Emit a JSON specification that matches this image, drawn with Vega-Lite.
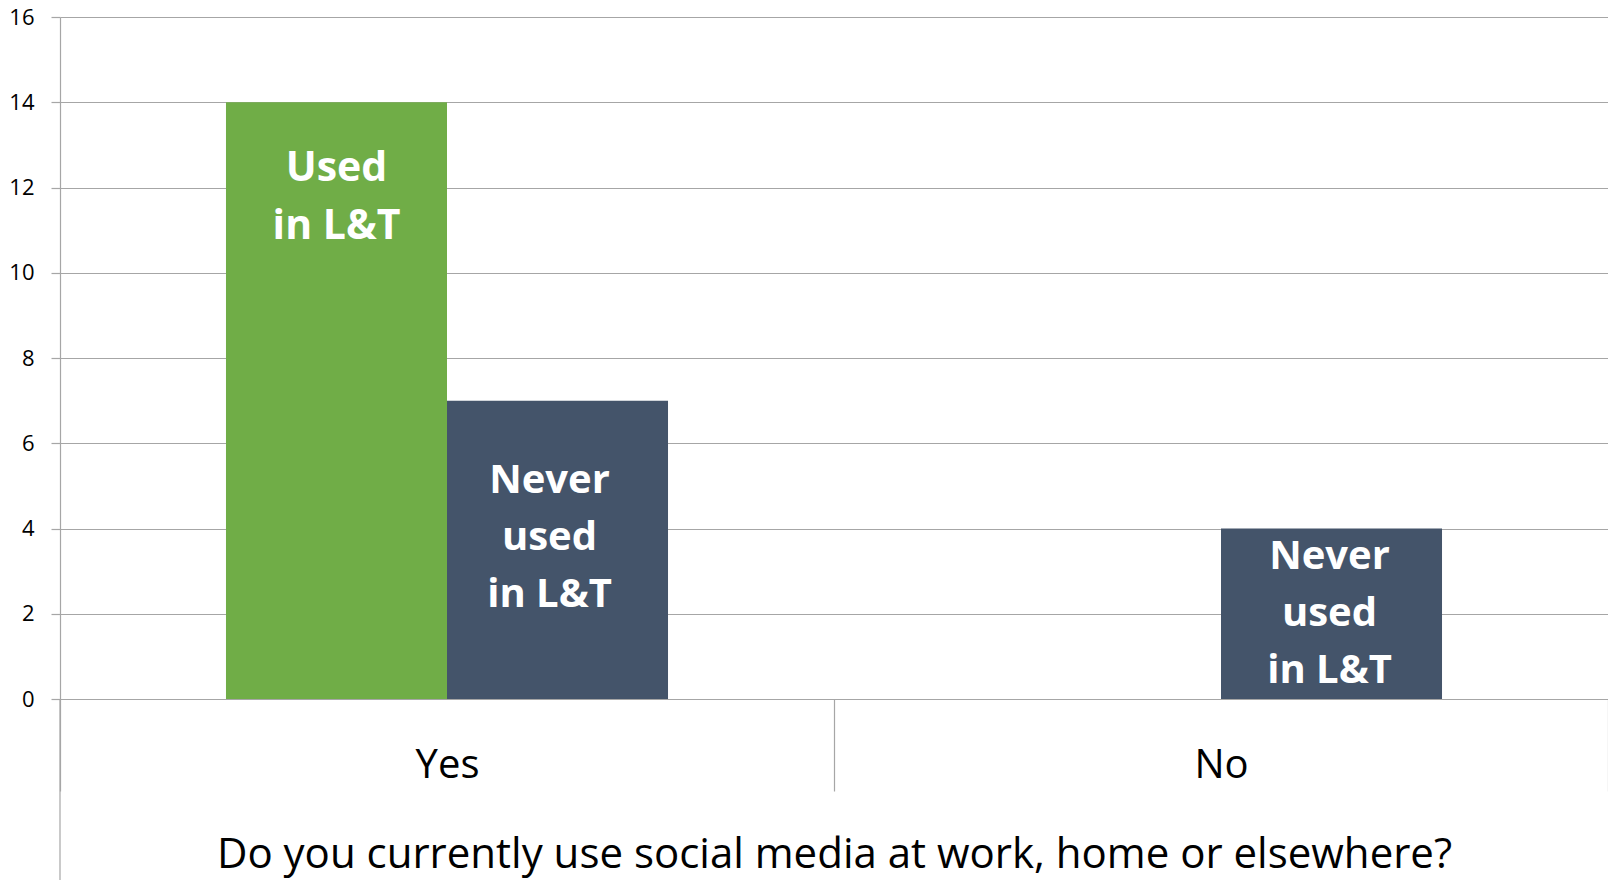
{
  "$schema": "https://vega.github.io/schema/vega-lite/v6.json",
  "width": 1548,
  "height": 682,
  "autosize": {"type": "none"},
  "padding": {"left": 60, "top": 17, "right": 0, "bottom": 181},
  "background": "white",
  "config": {"view": {"stroke": null}, "font": "Open Sans"},
  "data": {"values": [
    {"q": "Yes", "s": "Used in L&T", "label": "Used\nin L&T", "v": 14},
    {"q": "Yes", "s": "Never used in L&T", "label": "Never\nused\nin L&T", "v": 7},
    {"q": "No", "s": "Used in L&T", "label": "Used\nin L&T", "v": 0},
    {"q": "No", "s": "Never used in L&T", "label": "Never\nused\nin L&T", "v": 4}
  ]},
  "layer": [
    {
      "mark": {"type": "bar"},
      "encoding": {
        "x": {"field": "q", "type": "nominal", "sort": ["Yes", "No"],
          "scale": {"paddingInner": 0, "paddingOuter": 0},
          "axis": {
            "title": "Do you currently use social media at work, home or elsewhere?",
            "titleFont": "Open Sans", "titleFontSize": 42, "titleFontWeight": "normal", "titleColor": "#000000",
            "titleY": 168, "titleBaseline": "alphabetic",
            "labelFont": "Open Sans", "labelFontSize": 40, "labelColor": "#000000", "labelAngle": 0,
            "labelBaseline": "alphabetic", "labelPadding": -14,
            "tickBand": "extent", "tickSize": 92, "tickColor": "#A6A6A6", "tickWidth": 1.2,
            "domainColor": "#A6A6A6", "domainWidth": 1.2, "grid": false
          }},
        "xOffset": {"field": "s", "type": "nominal", "sort": ["Used in L&T", "Never used in L&T"],
          "scale": {"paddingInner": 0, "paddingOuter": 0.751}},
        "y": {"field": "v", "type": "quantitative", "stack": null,
          "scale": {"domain": [0, 16], "nice": false},
          "axis": {
            "title": null, "values": [0, 2, 4, 6, 8, 10, 12, 14, 16],
            "grid": true, "gridColor": "#A6A6A6", "gridWidth": 1.2,
            "domainColor": "#A6A6A6", "domainWidth": 1.2,
            "tickColor": "#A6A6A6", "tickWidth": 1.2, "tickSize": 9,
            "labelFont": "Open Sans", "labelFontSize": 22, "labelColor": "#000000", "labelPadding": 17
          }},
        "color": {"field": "s", "type": "nominal",
          "scale": {"domain": ["Used in L&T", "Never used in L&T"], "range": ["#70AD47", "#44546A"]},
          "legend": null}
      }
    },
    {
      "transform": [{"filter": "datum.q == 'Yes' && datum.s == 'Used in L&T'"}],
      "mark": {"type": "text", "lineBreak": "\n", "lineHeight": 58, "baseline": "alphabetic", "align": "center",
        "dy": 79, "font": "Open Sans", "fontSize": 41, "fontWeight": "bold", "color": "#FFFFFF"},
      "encoding": {
        "x": {"field": "q", "type": "nominal", "sort": ["Yes", "No"]},
        "xOffset": {"field": "s", "type": "nominal", "sort": ["Used in L&T", "Never used in L&T"]},
        "y": {"field": "v", "type": "quantitative", "stack": null},
        "text": {"field": "label"}
      }
    },
    {
      "transform": [{"filter": "datum.q == 'Yes' && datum.s == 'Never used in L&T'"}],
      "mark": {"type": "text", "lineBreak": "\n", "lineHeight": 56.7, "baseline": "alphabetic", "align": "center",
        "dy": 92.7, "dx": -8, "font": "Open Sans", "fontSize": 40, "fontWeight": "bold", "color": "#FFFFFF"},
      "encoding": {
        "x": {"field": "q", "type": "nominal", "sort": ["Yes", "No"]},
        "xOffset": {"field": "s", "type": "nominal", "sort": ["Used in L&T", "Never used in L&T"]},
        "y": {"field": "v", "type": "quantitative", "stack": null},
        "text": {"field": "label"}
      }
    },
    {
      "transform": [{"filter": "datum.q == 'No' && datum.s == 'Never used in L&T'"}],
      "mark": {"type": "text", "lineBreak": "\n", "lineHeight": 57, "baseline": "alphabetic", "align": "center",
        "dy": 40.5, "dx": -2, "font": "Open Sans", "fontSize": 40, "fontWeight": "bold", "color": "#FFFFFF"},
      "encoding": {
        "x": {"field": "q", "type": "nominal", "sort": ["Yes", "No"]},
        "xOffset": {"field": "s", "type": "nominal", "sort": ["Used in L&T", "Never used in L&T"]},
        "y": {"field": "v", "type": "quantitative", "stack": null},
        "text": {"field": "label"}
      }
    },
    {
      "data": {"values": [{}]},
      "mark": {"type": "rule", "color": "#A6A6A6", "strokeWidth": 1.2},
      "encoding": {
        "x": {"datum": "Yes", "type": "nominal", "bandPosition": 0},
        "y": {"datum": 0, "type": "quantitative"},
        "y2": {"datum": -4.25}
      }
    }
  ]
}
